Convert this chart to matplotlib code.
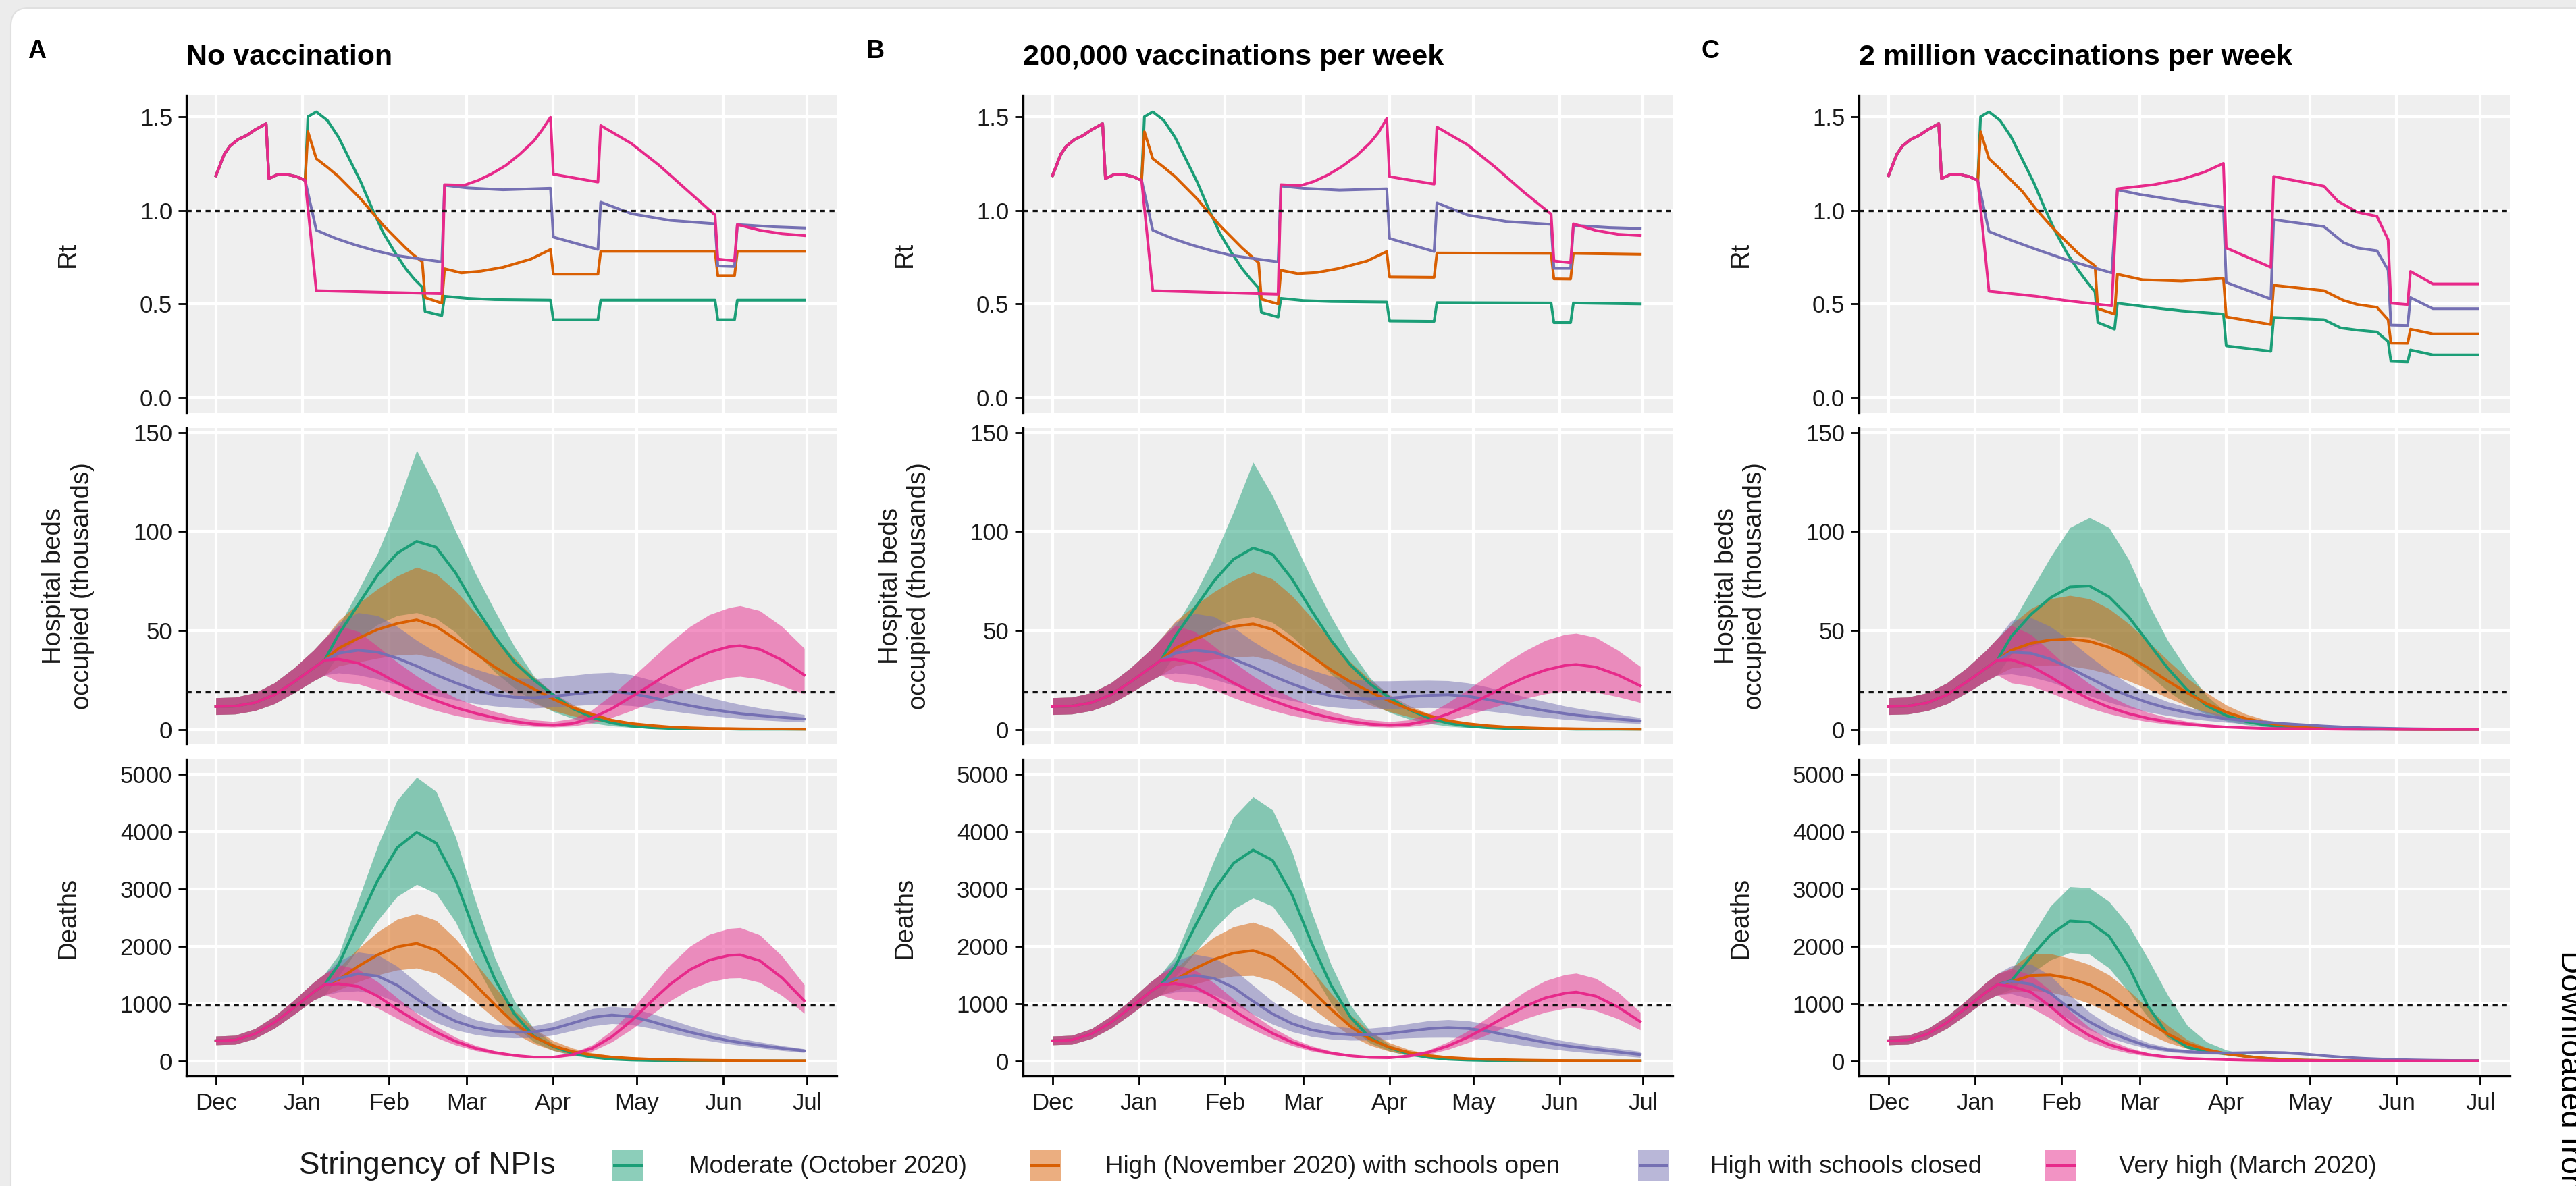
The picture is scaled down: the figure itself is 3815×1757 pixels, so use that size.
import matplotlib
matplotlib.use("Agg")
import matplotlib.pyplot as plt
from matplotlib.patches import FancyBboxPatch, Rectangle

W, H, DPI = 3815, 1757, 100

plt.rcParams["font.family"] = ["Liberation Sans", "DejaVu Sans"]

SCENARIOS = ["Moderate (October 2020)", "High (November 2020) with schools open",
             "High with schools closed", "Very high (March 2020)"]
COLOURS = ["#1B9E77", "#D95F02", "#7570B3", "#E7298A"]
PANEL_LETTERS = ["A", "B", "C"]
PANEL_TITLES = ["No vaccination", "200,000 vaccinations per week", "2 million vaccinations per week"]
MONTH_DAYS = [0, 31, 62, 90, 121, 151, 182, 212]
MONTH_LABELS = ["Dec", "Jan", "Feb", "Mar", "Apr", "May", "Jun", "Jul"]
RT_THRESHOLD = 1.0
BEDS_THRESHOLD = 18.9
DEATHS_THRESHOLD = 975

# ---- Rt (days since 1 Dec 2020). Common start, then one tail per scenario
RT_HEAD_DAYS = [0, 3, 5, 8, 11, 14, 18, 19, 22, 25, 29, 32]
RT_HEAD = [1.185, 1.30, 1.343, 1.379, 1.40, 1.43, 1.463, 1.17, 1.19, 1.193, 1.18, 1.16]

RT_AB_DAYS = [
    [33, 36, 40, 44, 48, 52, 56, 60, 64, 68, 71, 74, 75, 81, 82, 90, 100, 120, 121, 137, 138, 179, 180, 186, 187, 211],
    [33, 36, 40, 44, 48, 52, 56, 60, 64, 68, 71, 74, 75, 81, 82, 88, 95, 103, 113, 120, 121, 137, 138, 179, 180, 186, 187, 211],
    [36, 43, 50, 57, 64, 71, 81, 82, 90, 103, 120, 121, 137, 138, 149, 163, 179, 180, 186, 187, 200, 211],
    [36, 81, 82, 89, 94, 99, 104, 109, 114, 117, 120, 121, 137, 138, 149, 159, 169, 179, 180, 186, 187, 195, 203, 211],
]
RT_A = [
    [1.50, 1.526, 1.48, 1.39, 1.27, 1.15, 1.01, 0.88, 0.78, 0.69, 0.635, 0.59, 0.46, 0.438, 0.541, 0.53, 0.523, 0.52, 0.416, 0.416, 0.52, 0.52, 0.416, 0.416, 0.52, 0.52],
    [1.42, 1.276, 1.23, 1.18, 1.12, 1.06, 0.99, 0.92, 0.86, 0.80, 0.76, 0.725, 0.534, 0.504, 0.688, 0.666, 0.675, 0.696, 0.74, 0.791, 0.659, 0.659, 0.781, 0.781, 0.651, 0.651, 0.781, 0.781],
    [0.894, 0.85, 0.815, 0.785, 0.76, 0.745, 0.725, 1.134, 1.12, 1.11, 1.118, 0.857, 0.791, 1.044, 0.982, 0.946, 0.928, 0.703, 0.70, 0.924, 0.912, 0.906],
    [0.571, 0.555, 1.137, 1.134, 1.16, 1.196, 1.24, 1.30, 1.37, 1.43, 1.497, 1.193, 1.151, 1.453, 1.357, 1.24, 1.107, 0.975, 0.74, 0.73, 0.924, 0.894, 0.875, 0.865],
]
RT_B = [
    [1.50, 1.526, 1.48, 1.39, 1.27, 1.15, 1.01, 0.88, 0.78, 0.69, 0.635, 0.585, 0.455, 0.43, 0.53, 0.518, 0.513, 0.51, 0.409, 0.407, 0.507, 0.505, 0.40, 0.40, 0.505, 0.50],
    [1.42, 1.276, 1.23, 1.18, 1.12, 1.06, 0.99, 0.92, 0.86, 0.80, 0.76, 0.72, 0.525, 0.50, 0.68, 0.662, 0.668, 0.69, 0.73, 0.78, 0.644, 0.642, 0.772, 0.77, 0.634, 0.633, 0.77, 0.765],
    [0.894, 0.85, 0.815, 0.785, 0.76, 0.745, 0.725, 1.13, 1.118, 1.108, 1.115, 0.85, 0.78, 1.04, 0.975, 0.94, 0.925, 0.69, 0.69, 0.92, 0.908, 0.903],
    [0.571, 0.552, 1.137, 1.132, 1.155, 1.19, 1.235, 1.29, 1.36, 1.415, 1.49, 1.18, 1.14, 1.445, 1.35, 1.23, 1.10, 0.98, 0.73, 0.72, 0.928, 0.893, 0.872, 0.865],
]
RT_C_DAYS = [
    [33, 36, 40, 44, 48, 52, 56, 60, 64, 68, 71, 74, 75, 81, 82, 95, 105, 120, 121, 137, 138, 156, 162, 168, 175, 179, 180, 186, 187, 195, 211],
    [33, 36, 40, 44, 48, 53, 58, 63, 68, 74, 75, 81, 82, 91, 105, 120, 121, 137, 138, 156, 163, 168, 175, 179, 180, 186, 187, 195, 211],
    [36, 44, 53, 63, 72, 80, 82, 90, 105, 120, 121, 137, 138, 156, 163, 168, 175, 179, 180, 186, 187, 195, 211],
    [36, 53, 63, 80, 82, 95, 105, 113, 120, 121, 137, 138, 156, 161, 168, 175, 179, 180, 186, 187, 195, 211],
]
RT_C = [
    [1.50, 1.526, 1.48, 1.39, 1.27, 1.15, 1.01, 0.88, 0.77, 0.68, 0.62, 0.563, 0.401, 0.365, 0.504, 0.48, 0.463, 0.446, 0.276, 0.247, 0.428, 0.416, 0.372, 0.36, 0.35, 0.299, 0.193, 0.19, 0.254, 0.228, 0.228],
    [1.42, 1.276, 1.22, 1.16, 1.10, 1.004, 0.92, 0.843, 0.77, 0.703, 0.475, 0.446, 0.659, 0.629, 0.622, 0.637, 0.431, 0.39, 0.60, 0.571, 0.519, 0.497, 0.482, 0.416, 0.291, 0.29, 0.365, 0.34, 0.34],
    [0.887, 0.84, 0.791, 0.74, 0.70, 0.666, 1.11, 1.085, 1.049, 1.016, 0.615, 0.526, 0.95, 0.913, 0.828, 0.799, 0.784, 0.681, 0.387, 0.385, 0.534, 0.475, 0.475],
    [0.568, 0.541, 0.519, 0.49, 1.115, 1.137, 1.166, 1.203, 1.251, 0.799, 0.696, 1.181, 1.129, 1.049, 0.99, 0.968, 0.843, 0.504, 0.497, 0.674, 0.607, 0.607],
]

# ---- hospital beds (thousands) and deaths: shared start, then per scenario
EPI_EARLY_DAYS = [0, 7, 14, 21, 28, 35, 39]
EPI_LATE_DAYS = [44, 51, 58, 65, 72, 79, 86, 93, 100, 107, 114, 121, 128, 135, 142, 149, 156, 163, 170, 177, 184, 188, 195, 203, 211]

BEDS_EARLY_MID = [11.5, 11.8, 13.5, 17.5, 24, 31, 35]
BEDS_EARLY_LO = [7.5, 7.8, 9.5, 13, 18.5, 24.5, 27.5]
BEDS_EARLY_HI = [16, 16.3, 18.5, 23.5, 31, 40, 46]
DEATHS_EARLY_MID = [350, 365, 470, 670, 930, 1200, 1330]
DEATHS_EARLY_LO = [280, 290, 390, 570, 810, 1060, 1150]
DEATHS_EARLY_HI = [430, 445, 560, 780, 1060, 1370, 1520]

BEDS_A_MID = [
    [48, 63, 78, 89, 95, 92, 79, 62, 47, 34, 25, 17.5, 10.5, 6, 3.3, 1.7, 0.9, 0.5, 0.3, 0.2, 0.2, 0.1, 0.1, 0.1, 0.1],
    [41, 46, 50.5, 53.5, 55.4, 52, 45.5, 38.5, 31.5, 25.5, 20.5, 15.3, 11, 7.5, 4.6, 3, 2, 1.2, 0.8, 0.5, 0.4, 0.3, 0.2, 0.2, 0.1],
    [38.5, 40, 39, 36, 32, 27.5, 23.5, 20, 17.5, 16.3, 16, 16.8, 17.8, 18.8, 19.2, 18.2, 16.2, 14, 12, 10.2, 8.8, 8, 7, 6.1, 5.3],
    [35.5, 33.5, 29, 23.5, 18.5, 14.5, 11, 8.2, 5.8, 4, 2.7, 2.1, 3, 5.8, 10.5, 16.5, 22.5, 28.8, 34.5, 39, 41.8, 42.3, 40.5, 35, 27.5],
]
BEDS_A_LO = [
    [38, 46, 53, 57.5, 59, 56, 49, 39, 29, 21, 14, 9, 5.5, 3.2, 1.8, 1, 0.5, 0.3, 0.2, 0.1, 0.1, 0.1, 0, 0, 0],
    [32, 34, 36, 37.5, 38, 36, 31.5, 26.5, 21.5, 17, 13, 9.5, 6.8, 4.7, 3.1, 2, 1.3, 0.8, 0.5, 0.4, 0.3, 0.2, 0.1, 0.1, 0.1],
    [28.5, 27.5, 25.5, 22.5, 19.5, 17, 14.8, 13, 11.8, 11, 10.8, 11.3, 12, 12.5, 12.5, 12, 10.8, 9.4, 8.1, 7, 6, 5.5, 4.8, 4.2, 3.7],
    [24, 23, 20, 16, 12.5, 9.5, 7, 5.2, 3.7, 2.4, 1.5, 1.2, 1.7, 3.3, 6, 9.5, 13.5, 17.5, 21, 24, 26.3, 26.8, 25.5, 22, 18],
]
BEDS_A_HI = [
    [52, 70, 89, 113, 141, 122, 100, 79, 60, 42, 27, 18, 11, 6, 3.5, 2, 1.2, 0.7, 0.4, 0.3, 0.2, 0.2, 0.1, 0.1, 0.1],
    [55, 63.5, 71, 77.5, 82, 78.5, 70, 59, 47.5, 36, 26.5, 18.5, 12.5, 8.5, 5.5, 3.6, 2.3, 1.5, 1, 0.7, 0.5, 0.4, 0.3, 0.2, 0.2],
    [54, 59, 57.5, 52, 45, 39, 34, 30.5, 27.5, 26, 25.5, 26.3, 27.3, 28.4, 28.8, 27.6, 25, 22, 19, 16.2, 13.8, 12.6, 10.8, 9.2, 7.5],
    [52.5, 49.5, 42, 34, 27, 21, 16, 12, 9, 6.5, 4.8, 4, 5.5, 10, 17.5, 26, 35, 44, 52, 58, 61.5, 62.5, 60, 52, 41],
]
BEDS_B_MID = [
    [47, 61, 75, 86, 91.6, 88.5, 76, 60, 45, 32.5, 23, 16, 10, 5.8, 3.2, 1.7, 0.9, 0.5, 0.3, 0.2, 0.2, 0.1, 0.1, 0.1, 0.1],
    [41, 45.5, 49.5, 52, 53.3, 50.5, 44, 37, 30, 24, 19, 14.3, 10.2, 7, 4.4, 2.9, 1.9, 1.2, 0.8, 0.5, 0.4, 0.3, 0.2, 0.2, 0.1],
    [38.5, 40, 39, 35.5, 31.5, 27, 23, 19.5, 17, 15.7, 15.4, 15.8, 16.6, 17.2, 17.5, 16.8, 15.2, 13.2, 11.2, 9.4, 8, 7.2, 6.2, 5.2, 4.3],
    [35.4, 33.5, 29, 23.5, 18.5, 14.5, 11, 8.2, 5.8, 4, 2.7, 2.1, 2.6, 4.5, 7.8, 12, 17, 22, 26.5, 30, 32.3, 32.8, 31.5, 27.5, 22],
]
BEDS_B_LO = [
    [38, 45, 51.5, 55.5, 57, 54, 47, 37.5, 28, 20, 13.5, 8.6, 5.2, 3, 1.7, 0.9, 0.5, 0.3, 0.2, 0.1, 0.1, 0.1, 0, 0, 0],
    [32, 33.8, 35.5, 36.5, 37, 35, 30.5, 25.5, 20.5, 16.2, 12.3, 9, 6.4, 4.4, 2.9, 1.9, 1.2, 0.8, 0.5, 0.3, 0.2, 0.2, 0.1, 0.1, 0.1],
    [28.5, 27.5, 25.3, 22.3, 19.3, 16.7, 14.5, 12.7, 11.4, 10.6, 10.3, 10.5, 10.8, 11, 10.8, 10.3, 9.3, 8.2, 7, 6, 5.1, 4.7, 4, 3.5, 3],
    [24, 23, 20, 16, 12.5, 9.5, 7, 5.2, 3.7, 2.4, 1.5, 1.1, 1.4, 2.6, 4.6, 7.2, 10.2, 13.2, 15.8, 18, 19.4, 19.6, 18.8, 16.5, 13.6],
]
BEDS_B_HI = [
    [52, 68, 87, 110, 135, 118, 97, 76, 57, 40, 26, 17, 10.5, 6, 3.5, 2, 1.1, 0.6, 0.4, 0.3, 0.2, 0.2, 0.1, 0.1, 0.1],
    [54.5, 62.5, 69.5, 75.5, 79.5, 76, 67.5, 56.5, 45, 34, 25, 17.5, 12, 8, 5.2, 3.4, 2.2, 1.4, 0.9, 0.6, 0.5, 0.4, 0.3, 0.2, 0.2],
    [54, 58.6, 57, 51.5, 44.5, 38.5, 33.5, 30, 27, 25.3, 24.5, 24.5, 24.7, 24.8, 24.6, 23.5, 21.5, 19, 16.3, 14, 11.8, 10.8, 9.2, 7.6, 6],
    [52.6, 49.5, 42, 34, 27, 21, 16, 12, 9, 6.5, 4.8, 3.9, 4.8, 8, 13.5, 20, 27, 34, 40, 45, 48, 48.6, 46.5, 40, 31.8],
]
BEDS_C_MID = [
    [47, 58, 66.5, 72, 72.5, 67, 57, 44, 31, 20, 12, 7, 4, 2.2, 1.2, 0.7, 0.4, 0.2, 0.1, 0.1, 0.1, 0, 0, 0, 0],
    [40, 43.5, 45.2, 45.7, 44.5, 41.5, 37, 31, 24.5, 18.5, 13, 8.7, 5.5, 3.4, 2, 1.2, 0.7, 0.4, 0.3, 0.2, 0.1, 0.1, 0, 0, 0],
    [39, 38.5, 35.5, 31, 26, 21, 17, 13.5, 10.7, 8.5, 6.8, 5.4, 4.4, 3.6, 2.9, 2.3, 1.7, 1.2, 0.8, 0.6, 0.4, 0.3, 0.2, 0.1, 0.1],
    [35.2, 32, 26.5, 20.5, 15.3, 11.2, 8, 5.6, 3.9, 2.7, 1.8, 1.2, 0.8, 0.5, 0.4, 0.3, 0.2, 0.1, 0.1, 0.1, 0, 0, 0, 0, 0],
]
BEDS_C_LO = [
    [38, 42, 45, 47, 46.5, 43, 36, 28, 19.5, 12.5, 7.5, 4.3, 2.4, 1.3, 0.7, 0.4, 0.2, 0.1, 0.1, 0, 0, 0, 0, 0, 0],
    [31, 32, 32.5, 32, 30.5, 28, 24.5, 20.5, 16, 12, 8.5, 5.7, 3.6, 2.2, 1.3, 0.8, 0.5, 0.3, 0.2, 0.1, 0.1, 0, 0, 0, 0],
    [28, 26.5, 24, 20.5, 17, 13.7, 11, 8.8, 7, 5.6, 4.5, 3.6, 2.9, 2.4, 1.9, 1.5, 1.1, 0.8, 0.5, 0.4, 0.3, 0.2, 0.1, 0.1, 0.1],
    [23.5, 22, 18.5, 14.5, 10.8, 7.9, 5.6, 3.9, 2.7, 1.9, 1.3, 0.9, 0.6, 0.4, 0.3, 0.2, 0.1, 0.1, 0, 0, 0, 0, 0, 0, 0],
]
BEDS_C_HI = [
    [53, 70, 87, 102, 107, 102, 86, 64, 45, 30, 17, 8.5, 4.5, 2.5, 1.3, 0.7, 0.4, 0.2, 0.1, 0.1, 0.1, 0, 0, 0, 0],
    [53, 61, 66, 67.7, 66, 61, 53.5, 44.5, 35, 26, 18.5, 12.3, 7.8, 4.8, 2.9, 1.7, 1, 0.6, 0.4, 0.2, 0.1, 0.1, 0.1, 0, 0],
    [55, 56.5, 52, 45, 37, 29.5, 23, 18, 14, 11.2, 9, 7.1, 5.7, 4.6, 3.7, 2.9, 2.2, 1.6, 1.1, 0.8, 0.5, 0.4, 0.3, 0.2, 0.1],
    [52.6, 48, 39.5, 30.5, 23, 17, 12.2, 8.6, 6, 4.1, 2.8, 1.9, 1.3, 0.9, 0.6, 0.4, 0.3, 0.2, 0.1, 0.1, 0.1, 0, 0, 0, 0],
]

DEATHS_A_MID = [
    [1680, 2420, 3150, 3720, 3990, 3800, 3150, 2225, 1430, 820, 430, 250, 130, 65, 30, 15, 8, 4, 2, 1, 1, 0, 0, 0, 0],
    [1420, 1650, 1850, 1990, 2050, 1930, 1660, 1330, 980, 660, 420, 260, 160, 100, 65, 43, 29, 20, 14, 10, 7, 6, 4, 3, 3],
    [1440, 1520, 1480, 1320, 1080, 860, 690, 580, 520, 500, 505, 560, 660, 760, 800, 770, 690, 590, 500, 420, 350, 320, 270, 220, 175],
    [1345, 1300, 1130, 900, 690, 500, 340, 220, 145, 95, 65, 65, 110, 220, 420, 700, 1030, 1340, 1590, 1760, 1840, 1850, 1750, 1450, 1050],
]
DEATHS_A_LO = [
    [1480, 1950, 2450, 2870, 3080, 2920, 2420, 1700, 1080, 620, 330, 180, 95, 48, 22, 11, 6, 3, 1, 1, 0, 0, 0, 0, 0],
    [1240, 1380, 1500, 1585, 1620, 1530, 1300, 1030, 740, 480, 300, 180, 110, 68, 44, 29, 20, 14, 10, 7, 5, 4, 3, 2, 2],
    [1200, 1220, 1160, 1020, 840, 670, 540, 460, 415, 400, 405, 450, 530, 610, 650, 630, 570, 490, 415, 350, 295, 270, 225, 180, 145],
    [1070, 1050, 920, 740, 560, 405, 275, 180, 115, 75, 50, 50, 85, 170, 330, 550, 800, 1050, 1250, 1380, 1445, 1450, 1370, 1140, 830],
]
DEATHS_A_HI = [
    [1850, 2800, 3750, 4550, 4950, 4700, 3900, 2800, 1800, 1050, 560, 300, 160, 80, 38, 18, 9, 5, 2, 1, 1, 0, 0, 0, 0],
    [1620, 1960, 2250, 2470, 2570, 2450, 2130, 1720, 1290, 880, 570, 350, 220, 140, 90, 60, 40, 28, 20, 14, 10, 8, 6, 5, 4],
    [1740, 1900, 1850, 1650, 1370, 1090, 870, 720, 640, 600, 610, 680, 800, 910, 950, 920, 830, 720, 610, 510, 430, 390, 330, 265, 210],
    [1675, 1600, 1380, 1100, 830, 600, 410, 270, 175, 115, 80, 80, 140, 280, 530, 880, 1290, 1680, 2000, 2210, 2310, 2325, 2200, 1830, 1330],
]
DEATHS_B_MID = [
    [1640, 2330, 2980, 3450, 3680, 3500, 2900, 2060, 1320, 760, 400, 230, 120, 60, 28, 14, 7, 4, 2, 1, 1, 0, 0, 0, 0],
    [1410, 1610, 1770, 1880, 1925, 1810, 1550, 1230, 900, 600, 380, 235, 145, 90, 58, 38, 26, 18, 12, 8, 6, 5, 4, 3, 2],
    [1440, 1490, 1440, 1280, 1040, 820, 650, 540, 480, 455, 455, 480, 520, 560, 580, 565, 520, 450, 385, 320, 265, 240, 200, 155, 110],
    [1350, 1290, 1110, 880, 670, 480, 325, 210, 135, 88, 60, 55, 85, 150, 260, 410, 590, 780, 960, 1100, 1180, 1200, 1130, 940, 685],
]
DEATHS_B_LO = [
    [1460, 1880, 2300, 2650, 2840, 2700, 2230, 1580, 1000, 580, 310, 170, 90, 45, 21, 10, 5, 3, 1, 1, 0, 0, 0, 0, 0],
    [1230, 1340, 1430, 1480, 1490, 1400, 1190, 930, 670, 440, 270, 165, 100, 62, 40, 26, 18, 12, 8, 6, 4, 3, 3, 2, 1],
    [1200, 1210, 1150, 1000, 810, 640, 510, 425, 380, 360, 362, 380, 400, 408, 410, 400, 365, 315, 265, 220, 180, 160, 130, 95, 60],
    [1070, 1040, 900, 720, 545, 390, 265, 170, 110, 72, 48, 44, 66, 115, 200, 315, 455, 600, 740, 850, 915, 930, 875, 735, 540],
]
DEATHS_B_HI = [
    [1820, 2650, 3500, 4250, 4610, 4380, 3650, 2600, 1680, 970, 520, 280, 150, 75, 35, 17, 8, 4, 2, 1, 1, 0, 0, 0, 0],
    [1600, 1900, 2160, 2340, 2420, 2300, 1990, 1590, 1180, 800, 510, 315, 195, 125, 80, 52, 35, 24, 17, 12, 8, 7, 5, 4, 3],
    [1740, 1860, 1800, 1600, 1320, 1040, 830, 690, 610, 575, 570, 600, 650, 700, 720, 700, 645, 565, 485, 410, 345, 315, 265, 215, 165],
    [1675, 1590, 1360, 1080, 810, 580, 395, 260, 170, 110, 75, 70, 105, 190, 330, 520, 750, 990, 1220, 1400, 1505, 1530, 1440, 1200, 850],
]
DEATHS_C_MID = [
    [1400, 1810, 2200, 2440, 2420, 2180, 1650, 950, 460, 240, 160, 125, 80, 45, 22, 11, 6, 3, 2, 1, 0, 0, 0, 0, 0],
    [1380, 1490, 1500, 1440, 1330, 1150, 900, 680, 470, 300, 195, 125, 78, 45, 25, 13, 7, 4, 2, 1, 1, 0, 0, 0, 0],
    [1390, 1340, 1180, 910, 680, 500, 370, 255, 190, 160, 142, 137, 142, 150, 143, 120, 90, 63, 44, 30, 20, 16, 10, 6, 4],
    [1300, 1200, 950, 660, 440, 285, 180, 110, 68, 44, 29, 20, 13, 9, 6, 4, 3, 2, 1, 1, 0, 0, 0, 0, 0],
]
DEATHS_C_LO = [
    [1250, 1520, 1760, 1890, 1860, 1620, 1210, 760, 400, 215, 145, 110, 70, 38, 19, 9, 5, 2, 1, 1, 0, 0, 0, 0, 0],
    [1200, 1230, 1200, 1120, 1000, 840, 650, 470, 320, 215, 145, 97, 60, 34, 19, 10, 5, 3, 1, 1, 0, 0, 0, 0, 0],
    [1170, 1080, 930, 720, 540, 400, 300, 210, 158, 132, 118, 114, 120, 127, 120, 100, 76, 53, 37, 25, 17, 13, 8, 5, 3],
    [1000, 930, 740, 510, 340, 215, 135, 80, 50, 32, 21, 14, 10, 6, 4, 3, 2, 1, 1, 0, 0, 0, 0, 0, 0],
]
DEATHS_C_HI = [
    [1580, 2150, 2700, 3040, 3020, 2780, 2370, 1780, 1150, 620, 330, 190, 110, 60, 30, 15, 7, 3, 2, 1, 0, 0, 0, 0, 0],
    [1620, 1875, 1870, 1790, 1680, 1500, 1230, 920, 620, 370, 230, 145, 88, 50, 28, 15, 8, 4, 2, 1, 1, 0, 0, 0, 0],
    [1660, 1690, 1490, 1150, 850, 620, 455, 315, 235, 195, 172, 165, 167, 174, 166, 140, 105, 75, 52, 35, 24, 19, 12, 7, 5],
    [1610, 1500, 1230, 870, 580, 370, 230, 140, 85, 55, 36, 25, 16, 11, 7, 5, 3, 2, 1, 1, 0, 0, 0, 0, 0],
]

# panel pixel boxes (reference image coordinates)
COL_LEFT = [276, 1515, 2753]
COL_RIGHT = [1239, 2477, 3717]
ROW_TOP = [141, 634, 1125]
ROW_BOTTOM = [612, 1102, 1594]

PANEL_BG = "#EFEFEF"
TEXT_DARK = "#1A1A1A"
LINE_W = 2.9


def px_axes(fig, left, top, right, bottom):
    return fig.add_axes([left / W, 1 - bottom / H, (right - left) / W, (bottom - top) / H])


def style(ax, show_x):
    ax.set_facecolor(PANEL_BG)
    ax.grid(True, color="white", lw=3)
    ax.set_axisbelow(True)
    for s in ["top", "right"]:
        ax.spines[s].set_visible(False)
    ax.spines["left"].set_linewidth(2.4)
    ax.spines["left"].set_color("black")
    ax.spines["bottom"].set_visible(show_x)
    ax.spines["bottom"].set_linewidth(2.4)
    ax.set_xlim(-10.6, 222.6)
    ax.set_xticks(MONTH_DAYS)
    ax.tick_params(axis="y", length=9, width=2, color="black", labelsize=25, pad=6, labelcolor=TEXT_DARK)
    if show_x:
        ax.set_xticklabels(MONTH_LABELS)
        ax.tick_params(axis="x", length=9, width=2, color="black", labelsize=25, pad=8, labelcolor=TEXT_DARK)
    else:
        ax.tick_params(axis="x", length=0, labelbottom=False)


def epi_panel(ax, mid, lo, hi, early_mid, early_lo, early_hi, threshold):
    days = EPI_EARLY_DAYS + EPI_LATE_DAYS
    for i in range(4):
        ax.fill_between(days, early_lo + lo[i], early_hi + hi[i], color=COLOURS[i], alpha=0.5, lw=0)
    for i in range(4):
        ax.plot(days, early_mid + mid[i], color=COLOURS[i], lw=LINE_W)
    ax.axhline(threshold, color="#111111", lw=2.4, dashes=(2.2, 2.0), zorder=5)


fig = plt.figure(figsize=(W / DPI, H / DPI), dpi=DPI)
fig.patch.set_facecolor("#ECECEC")

bg = fig.add_axes([0, 0, 1, 1])
bg.set_xlim(0, W)
bg.set_ylim(H, 0)
bg.axis("off")
bg.set_zorder(-5)
bg.add_patch(FancyBboxPatch((16, 12), W + 60, H + 60, boxstyle="round,pad=0,rounding_size=26",
                            fc="white", ec="#E0E0E0", lw=1.5))

rt_data = [(RT_AB_DAYS, RT_A), (RT_AB_DAYS, RT_B), (RT_C_DAYS, RT_C)]
beds_data = [(BEDS_A_MID, BEDS_A_LO, BEDS_A_HI), (BEDS_B_MID, BEDS_B_LO, BEDS_B_HI),
             (BEDS_C_MID, BEDS_C_LO, BEDS_C_HI)]
deaths_data = [(DEATHS_A_MID, DEATHS_A_LO, DEATHS_A_HI), (DEATHS_B_MID, DEATHS_B_LO, DEATHS_B_HI),
               (DEATHS_C_MID, DEATHS_C_LO, DEATHS_C_HI)]

for c in range(3):
    l, r = COL_LEFT[c], COL_RIGHT[c]

    # Rt
    ax = px_axes(fig, l, ROW_TOP[0], r, ROW_BOTTOM[0])
    style(ax, False)
    days_list, vals_list = rt_data[c]
    for i in range(4):
        ax.plot(RT_HEAD_DAYS + days_list[i], RT_HEAD + vals_list[i], color=COLOURS[i], lw=LINE_W)
    ax.axhline(RT_THRESHOLD, color="#111111", lw=2.4, dashes=(2.2, 2.0), zorder=5)
    ax.set_ylim(-0.083, 1.615)
    ax.set_yticks([0, 0.5, 1.0, 1.5])
    ax.set_yticklabels(["0.0", "0.5", "1.0", "1.5"])

    # hospital beds
    ax = px_axes(fig, l, ROW_TOP[1], r, ROW_BOTTOM[1])
    style(ax, False)
    mid, lo, hi = beds_data[c]
    epi_panel(ax, mid, lo, hi, BEDS_EARLY_MID, BEDS_EARLY_LO, BEDS_EARLY_HI, BEDS_THRESHOLD)
    ax.set_ylim(-7.3, 152.3)
    ax.set_yticks([0, 50, 100, 150])

    # deaths
    ax = px_axes(fig, l, ROW_TOP[2], r, ROW_BOTTOM[2])
    style(ax, True)
    mid, lo, hi = deaths_data[c]
    epi_panel(ax, mid, lo, hi, DEATHS_EARLY_MID, DEATHS_EARLY_LO, DEATHS_EARLY_HI, DEATHS_THRESHOLD)
    ax.set_ylim(-264, 5262)
    ax.set_yticks([0, 1000, 2000, 3000, 4000, 5000])

    # axis titles
    lx = l - 175
    bg.text(lx, (ROW_TOP[0] + ROW_BOTTOM[0]) / 2, "Rt", rotation=90, ha="center", va="center",
            fontsize=27.5, color=TEXT_DARK)
    bg.text(lx, (ROW_TOP[1] + ROW_BOTTOM[1]) / 2, "Hospital beds\noccupied (thousands)", rotation=90,
            ha="center", va="center", fontsize=27.5, color=TEXT_DARK, multialignment="center")
    bg.text(lx, (ROW_TOP[2] + ROW_BOTTOM[2]) / 2, "Deaths", rotation=90, ha="center", va="center",
            fontsize=27.5, color=TEXT_DARK)

    # panel letter and title
    bg.text([55, 1296, 2533][c], 76, PANEL_LETTERS[c], ha="center", va="center", fontsize=27,
            fontweight="bold", color="black")
    bg.text(l, 85, PANEL_TITLES[c], ha="left", va="center", fontsize=31, fontweight="bold", color="black")

# legend
bg.text(443, 1727, "Stringency of NPIs", ha="left", va="center", fontsize=33, color=TEXT_DARK)
KEY_X = [907, 1525, 2426, 3029]
LABEL_X = [1020, 1637, 2533, 3138]
for i in range(4):
    bg.add_patch(Rectangle((KEY_X[i], 1703), 46, 47, fc=COLOURS[i], alpha=0.5, lw=0))
    bg.plot([KEY_X[i] + 3, KEY_X[i] + 43], [1727, 1727], color=COLOURS[i], lw=LINE_W)
    bg.text(LABEL_X[i], 1728, SCENARIOS[i], ha="left", va="center", fontsize=26.5, color=TEXT_DARK)

# side watermark, cut by the right edge
bg.text(3783, 1408, "Downloaded from", rotation=-90, ha="left", va="top", fontsize=34, color="black")

fig.savefig("out.png", dpi=DPI, facecolor=fig.get_facecolor())
